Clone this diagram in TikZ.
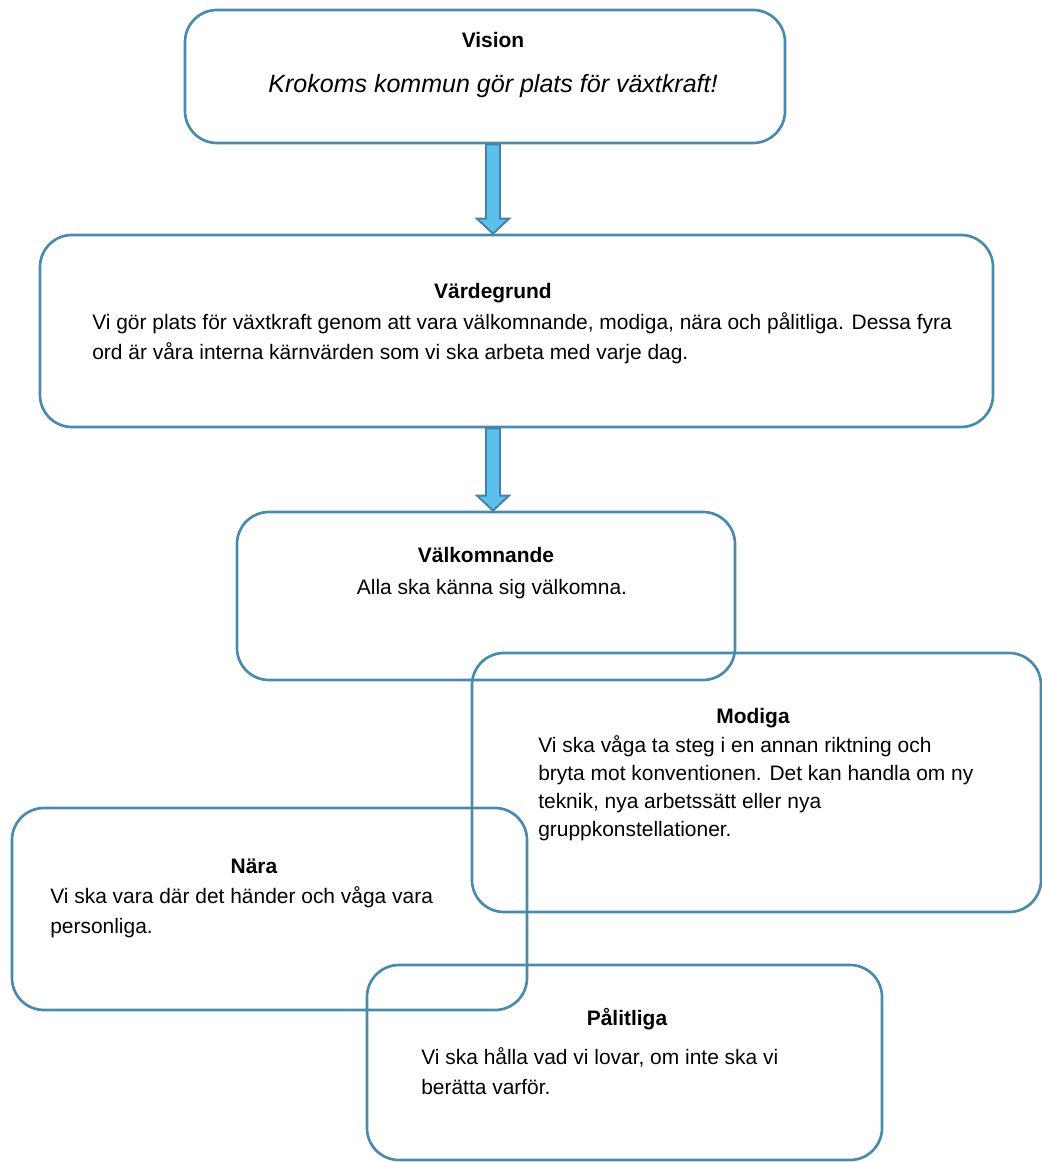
\documentclass[tikz,border=0pt]{standalone}
\usepackage{fontspec}
\setmainfont{Liberation Sans}
\usetikzlibrary{positioning, calc}
\definecolor{boxline}{HTML}{4A8BAD}
\definecolor{arrowfill}{HTML}{5BC0EB}
\definecolor{arrowline}{HTML}{4682A8}

\begin{document}
\begin{tikzpicture}[
    box/.style={rectangle, draw=boxline, line width=1.9pt, rounded corners=0.8cm, inner sep=0pt},
    head/.style={font=\bfseries\fontsize{14.9}{20}\selectfont, anchor=base, inner sep=0pt},
    body/.style={font=\fontsize{14.9}{21.3}\selectfont, align=left, anchor=base west, inner sep=0pt},
    flow/.style={draw=arrowline, line width=1.4pt, fill=arrowfill, line join=miter}]

    \useasboundingbox (0,0) rectangle (26.05,-29.05);

    % boxes
    \node [box, minimum width=15cm, minimum height=3.325cm] (vision) at (12.125,-1.9125) {};
    \node [box, minimum width=23.825cm, minimum height=4.8cm] (vard) at (12.9125,-8.275) {};
    \node [box, minimum width=12.45cm, minimum height=4.2cm] (valk) at (12.15,-14.9) {};
    \node [box, minimum width=14.225cm, minimum height=6.475cm] (modiga) at (18.9125,-19.5625) {};
    \node [box, minimum width=12.875cm, minimum height=5.05cm] (nara) at (6.7375,-22.725) {};
    \node [box, minimum width=12.875cm, minimum height=4.875cm] (palit) at (15.6125,-26.5625) {};

    % texts (body nodes sit on the baseline of their last line)
    \node [head] (visionhead) at (12.325,-1.2) {Vision};
    \node [anchor=base, inner sep=0pt, font=\itshape\fontsize{17.8}{22}\selectfont] (visiontext) at (12.325,-2.325) {Krokoms kommun gör plats för växtkraft!};

    \node [head] (vardhead) at (12.325,-7.45) {Värdegrund};
    \node [body] (vardtext) at (2.3,-8.975) {Vi gör plats för växtkraft genom att vara välkomnande, modiga, nära och pålitliga. Dessa fyra\\ord är våra interna kärnvärden som vi ska arbeta med varje dag.};

    \node [head] (valkhead) at (12.15,-14.05) {Välkomnande};
    \node [body, anchor=base] (valktext) at (12.3,-14.85) {Alla ska känna sig välkomna.};

    \node [head] (modigahead) at (18.825,-18.075) {Modiga};
    \node [body, font=\fontsize{14.9}{19.9}\selectfont] (modigatext) at (13.45,-20.9) {Vi ska våga ta steg i en annan riktning och\\bryta mot konventionen.  Det kan handla om ny\\teknik, nya arbetssätt eller nya\\gruppkonstellationer.};

    \node [head] (narahead) at (6.35,-21.825) {Nära};
    \node [body] (naratext) at (1.25,-23.325) {Vi ska vara där det händer och våga vara\\personliga.};

    \node [head] (palithead) at (15.675,-25.625) {Pålitliga};
    \node [body] (palittext) at (10.525,-27.35) {Vi ska hålla vad vi lovar, om inte ska vi\\berätta varför.};

    % block arrows
    \coordinate (axis) at (12.325,0);
    \foreach \a/\b in {vision/vard, vard/valk} {
        \coordinate (s) at (axis |- \a.south);
        \coordinate (e) at (axis |- \b.north);
        \draw [flow] ($(s)+(-0.175,0)$) -- ($(e)+(-0.175,0.375)$) -- ($(e)+(-0.4,0.375)$) -- (e)
            -- ($(e)+(0.4,0.375)$) -- ($(e)+(0.175,0.375)$) -- ($(s)+(0.175,0)$) -- cycle;
    }
\end{tikzpicture}
\end{document}
